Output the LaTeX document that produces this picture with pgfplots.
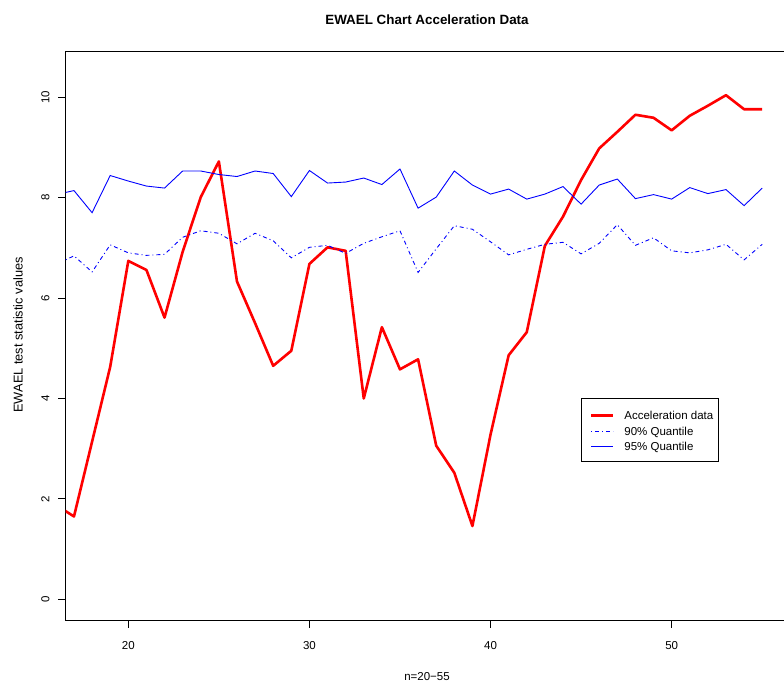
\documentclass[border=0pt]{standalone}
\usepackage{fontspec}
\setmainfont{Liberation Sans}
\usepackage{pgfplots}
\pgfplotsset{compat=1.18}

\pgfplotstableread{
x acc q90 q95
16 1.88 6.67 8.06
17 1.65 6.84 8.14
18 3.14 6.52 7.70
19 4.63 7.06 8.44
20 6.74 6.90 8.33
21 6.56 6.85 8.23
22 5.61 6.87 8.19
23 6.92 7.21 8.53
24 8.01 7.34 8.53
25 8.72 7.29 8.46
26 6.33 7.08 8.42
27 5.50 7.29 8.53
28 4.65 7.14 8.48
29 4.95 6.80 8.02
30 6.68 7.01 8.54
31 7.01 7.05 8.29
32 6.94 6.89 8.31
33 4.00 7.09 8.39
34 5.42 7.22 8.26
35 4.58 7.34 8.57
36 4.78 6.51 7.79
37 3.06 6.98 8.01
38 2.52 7.44 8.53
39 1.46 7.37 8.25
40 3.28 7.12 8.07
41 4.86 6.86 8.17
42 5.32 6.97 7.97
43 7.04 7.07 8.07
44 7.62 7.11 8.22
45 8.35 6.88 7.87
46 8.98 7.09 8.25
47 9.31 7.46 8.37
48 9.65 7.05 7.98
49 9.59 7.20 8.06
50 9.34 6.94 7.97
51 9.63 6.90 8.20
52 9.83 6.96 8.08
53 10.04 7.07 8.16
54 9.76 6.76 7.84
55 9.76 7.07 8.19
}\datatable

\begin{document}
\fontsize{11.5}{13}\selectfont
\begin{tikzpicture}[x=1pt,y=1pt]
\useasboundingbox (0,0) rectangle (784,683);
\begin{axis}[
  at={(65.5pt,62.3pt)}, anchor=south west,
  scale only axis, width=723.5pt, height=569.7pt,
  xmin=16.532, xmax=56.48, ymin=-0.426, ymax=10.92,
  axis line style={black, line width=0.8pt},
  xtick={20,30,40,50}, ytick={0,2,4,6,8,10},
  xtick pos=left, ytick pos=left,
  tick align=outside, major tick length=7pt,
  every tick/.style={black, line width=0.8pt},
  tick label style={font=\fontsize{11.5}{13}\selectfont},
  /pgf/number format/assume math mode=true,
  xticklabel style={anchor=base, inner sep=0pt, yshift=-21.3pt},
  yticklabel style={rotate=90, anchor=base, inner sep=0pt, yshift=9.2pt},
  legend style={at={(0.7125,0.3904)}, anchor=north west, draw=black, line width=0.8pt,
    inner xsep=5.4pt, inner ysep=10.1pt, row sep=4.7pt,
    font=\fontsize{11.5}{13}\selectfont,
    nodes={inner sep=0pt, text height=10.9pt, text depth=0pt}},
  legend cell align=left,
  legend image code/.code={\path[draw=none] (0pt,-1.2pt) -- (37.6pt,-1.2pt); \draw[#1] (4.6pt,-1.2pt) -- (26.6pt,-1.2pt);},
]
\addplot[draw=red, line width=2.6pt, line join=round] table[x=x, y=acc] {\datatable};
\addlegendentry{Acceleration data}
\addplot[draw=blue, line width=0.9pt, dash pattern=on 1pt off 3pt on 4pt off 3pt] table[x=x, y=q90] {\datatable};
\addlegendentry{90\% Quantile}
\addplot[draw=blue, line width=0.9pt] table[x=x, y=q95] {\datatable};
\addlegendentry{95\% Quantile}
\end{axis}
\node[font=\fontsize{13.4}{15}\selectfont\bfseries, anchor=base] at (427,658) {EWAEL Chart Acceleration Data};
\node[anchor=base] at (427,3) {n=20−55};
\node[rotate=90, anchor=base, font=\fontsize{12.8}{14}\selectfont] at (22.7,348) {EWAEL test statistic values};
\end{tikzpicture}
\end{document}
